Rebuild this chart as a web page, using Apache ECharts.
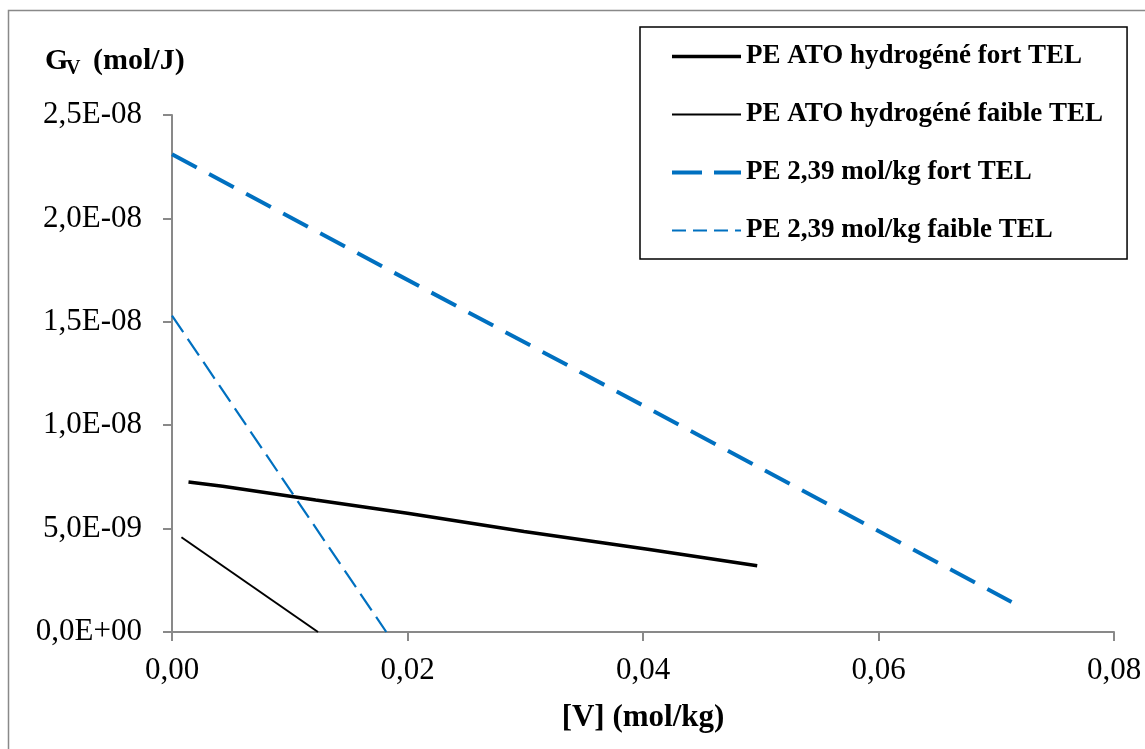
<!DOCTYPE html>
<html>
<head>
<meta charset="utf-8">
<script src="https://cdn.jsdelivr.net/npm/echarts@6/dist/echarts.min.js"></script>
<style>
html,body{margin:0;padding:0;background:#fff;}
#chart{width:1145px;height:749px;}
</style>
</head>
<body>
<div id="chart"></div>
<script>
// ---- data ----
var seriesNames = [
  'PE ATO hydrogéné fort TEL',
  'PE ATO hydrogéné faible TEL',
  'PE 2,39 mol/kg fort TEL',
  'PE 2,39 mol/kg faible TEL'
];
var atoFortX = [0.0014, 0.0043, 0.0122, 0.0200, 0.0299, 0.0404, 0.0497];
var atoFortY = [7.25e-9, 7.05e-9, 6.38e-9, 5.74e-9, 4.86e-9, 4.00e-9, 3.20e-9];
var atoFaibleX = [0.0008, 0.0124];
var atoFaibleY = [4.58e-9, 0];
var pe239FortX = [0.0000, 0.0713];
var pe239FortY = [2.31e-8, 1.45e-9];
var pe239FaibleX = [0.0000, 0.0182];
var pe239FaibleY = [1.53e-8, 0];
var xTicks = { min: 0, max: 0.08, interval: 0.02 };
var yTicks = { min: 0, max: 2.5e-8, interval: 5e-9 };
var yTitle = { main: 'G', sub: 'V', unit: '(mol/J)' };
var xTitle = '[V] (mol/kg)';

function pairs(xs, ys) { return xs.map(function (x, i) { return [x, ys[i]]; }); }

var FONT = '"Liberation Serif", "Times New Roman", serif';
var BLUE = '#0070C0';
var AXIS = '#898989';

function fmtY(v) {
  if (v === 0) return '0,0E+00';
  var e = Math.floor(Math.log10(Math.abs(v)) + 1e-9);
  var m = v / Math.pow(10, e);
  var ae = Math.abs(e);
  return m.toFixed(1).replace('.', ',') + 'E' + (e < 0 ? '-' : '+') + (ae < 10 ? '0' + ae : '' + ae);
}
function fmtX(v) { return v.toFixed(2).replace('.', ','); }

var styles = [
  { color: '#000', width: 3.5, type: 'solid' },
  { color: '#000', width: 2, type: 'solid' },
  { color: BLUE, width: 4, type: [28, 14] },
  { color: BLUE, width: 2.2, type: [20, 8] }
];
var legendStyles = [
  { color: '#000', width: 3.5, type: 'solid' },
  { color: '#000', width: 2, type: 'solid' },
  { color: BLUE, width: 4, type: [30, 12] },
  { color: BLUE, width: 2.2, type: [14, 7] }
];

var chart = echarts.init(document.getElementById('chart'), null, { renderer: 'canvas' });
chart.setOption({
  animation: false,
  backgroundColor: '#fff',
  grid: { left: 172, right: 31, top: 115, bottom: 117, containLabel: false },
  xAxis: {
    type: 'value',
    min: xTicks.min, max: xTicks.max, interval: xTicks.interval,
    name: xTitle,
    nameLocation: 'middle',
    nameGap: 70,
    nameTextStyle: { fontFamily: FONT, fontWeight: 'bold', fontSize: 31, color: '#000' },
    axisLine: { show: true, onZero: false, lineStyle: { color: AXIS, width: 2 } },
    axisTick: { show: true, length: 9, lineStyle: { color: AXIS, width: 2 } },
    axisLabel: { margin: 23, fontFamily: FONT, fontSize: 31, color: '#000', formatter: fmtX },
    splitLine: { show: false }
  },
  yAxis: {
    type: 'value',
    min: yTicks.min, max: yTicks.max, interval: yTicks.interval,
    axisLine: { show: true, onZero: false, lineStyle: { color: AXIS, width: 2 } },
    axisTick: { show: true, length: 9, lineStyle: { color: AXIS, width: 2 } },
    axisLabel: { margin: 30, fontFamily: FONT, fontSize: 31, color: '#000', formatter: fmtY },
    splitLine: { show: false }
  },
  legend: {
    left: 640, top: 27,
    orient: 'vertical',
    padding: [14.5, 24, 13.5, 30],
    itemWidth: 69, itemHeight: 14, itemGap: 28,
    borderColor: '#000', borderWidth: 1.5,
    backgroundColor: '#fff',
    textStyle: { fontFamily: FONT, fontWeight: 'bold', fontSize: 27, color: '#000', lineHeight: 30 },
    data: seriesNames.map(function (n, i) {
      return {
        name: n,
        itemStyle: { opacity: 0 },
        lineStyle: { color: legendStyles[i].color, width: legendStyles[i].width, type: legendStyles[i].type, opacity: 1 }
      };
    })
  },
  graphic: [
    { type: 'rect', silent: true, z: -1,
      shape: { x: 8.5, y: 10.5, width: 1300, height: 1000 },
      style: { fill: null, stroke: AXIS, lineWidth: 1.5 } },
    { type: 'text', left: 45, top: 46,
      style: { text: yTitle.main, font: 'bold 30px ' + FONT, fill: '#000' } },
    { type: 'text', left: 66, top: 59,
      style: { text: yTitle.sub, font: 'bold 20px ' + FONT, fill: '#000' } },
    { type: 'text', left: 93, top: 46,
      style: { text: yTitle.unit, font: 'bold 30px ' + FONT, fill: '#000' } }
  ],
  series: seriesNames.map(function (n, i) {
    var xs = [atoFortX, atoFaibleX, pe239FortX, pe239FaibleX][i];
    var ys = [atoFortY, atoFaibleY, pe239FortY, pe239FaibleY][i];
    return {
      name: n, type: 'line', symbol: 'none', showSymbol: false,
      data: pairs(xs, ys), color: styles[i].color,
      lineStyle: { color: styles[i].color, width: styles[i].width, type: styles[i].type }
    };
  })
});
</script>
</body>
</html>
